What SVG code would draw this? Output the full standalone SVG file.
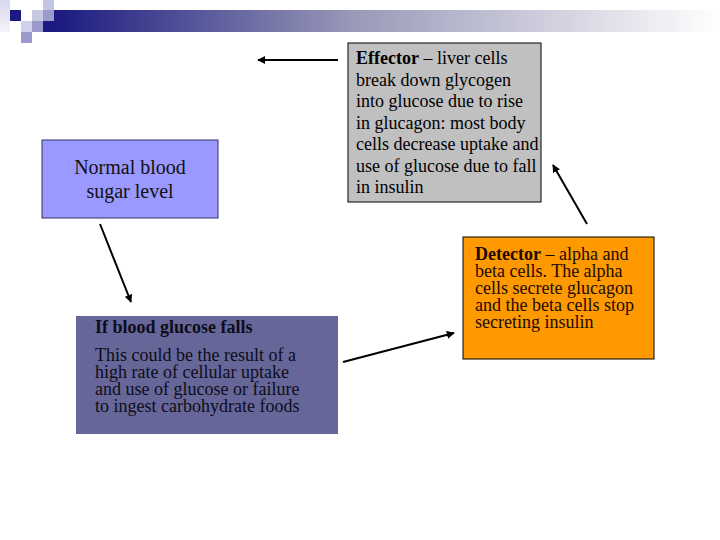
<svg xmlns="http://www.w3.org/2000/svg" width="720" height="540" viewBox="0 0 720 540">
<defs>
<linearGradient id="bar" x1="0" y1="0" x2="1" y2="0">
<stop offset="0" stop-color="#1a1a80"/>
<stop offset="0.45" stop-color="#9999b8"/>
<stop offset="1" stop-color="#ffffff"/>
</linearGradient>
<linearGradient id="fade" x1="0" y1="0" x2="0" y2="1">
<stop offset="0" stop-color="#d8d8ee"/>
<stop offset="1" stop-color="#f4f4fb"/>
</linearGradient>
<marker id="ah" viewBox="0 0 10 10" refX="9" refY="5" markerWidth="4" markerHeight="4" orient="auto" markerUnits="strokeWidth">
<path d="M0,0 L10,5 L0,10 Z" fill="#000"/>
</marker>
<style>
.t{font-family:"Liberation Serif","Times New Roman",serif;font-size:18px;}
.c{stroke:#000;stroke-width:2;fill:none;marker-end:url(#ah);}
</style>
</defs>
<rect width="720" height="540" fill="#fff"/>
<g id="header">
<rect x="54" y="10" width="666" height="22" fill="url(#bar)"/>
<rect x="0" y="0" width="10" height="32" fill="url(#fade)"/>
<rect x="10" y="10" width="11" height="11" fill="#1a1a80"/>
<rect x="21" y="21" width="11" height="11" fill="#d0d0ec"/>
<rect x="32" y="10" width="11" height="11" fill="#c8c8e0"/>
<rect x="43" y="0" width="11" height="10" fill="#c4c4e4"/>
<rect x="43" y="10" width="11" height="11" fill="#9a9acc"/>
<rect x="32" y="21" width="11" height="11" fill="#9999cc"/>
<rect x="43" y="21" width="11" height="11" fill="#1a1a80"/>
<rect x="21" y="32" width="11" height="11" fill="#9999cc"/>
</g>
<g id="normal">
<rect x="42" y="140" width="176" height="78" fill="#9999ff" stroke="#333366" stroke-width="1"/>
<text class="t" x="130" y="174" text-anchor="middle" style="font-size:20px" fill="#111">Normal blood</text>
<text class="t" x="130" y="198" text-anchor="middle" style="font-size:20px" fill="#111">sugar level</text>
</g>
<g id="effector">
<rect x="348" y="43" width="193" height="159" fill="#c0c0c0" stroke="#000" stroke-width="1"/>
<text class="t" fill="#000">
<tspan x="356" y="64"><tspan font-weight="bold">Effector</tspan> – liver cells</tspan>
<tspan x="356" y="86">break down glycogen</tspan>
<tspan x="356" y="107">into glucose due to rise</tspan>
<tspan x="356" y="129">in glucagon: most body</tspan>
<tspan x="356" y="150">cells decrease uptake and</tspan>
<tspan x="356" y="172">use of glucose due to fall</tspan>
<tspan x="356" y="193">in insulin</tspan>
</text>
</g>
<g id="detector">
<rect x="463" y="237" width="191" height="122" fill="#ff9900" stroke="#000" stroke-width="1"/>
<text class="t" fill="#1a0a00">
<tspan x="475" y="260"><tspan font-weight="bold">Detector</tspan> – alpha and</tspan>
<tspan x="475" y="277">beta cells. The alpha</tspan>
<tspan x="475" y="294">cells secrete glucagon</tspan>
<tspan x="475" y="311">and the beta cells stop</tspan>
<tspan x="475" y="328">secreting insulin</tspan>
</text>
</g>
<g id="stimulus">
<rect x="76" y="316" width="262" height="118" fill="#666699"/>
<text class="t" x="95" y="333" font-weight="bold" fill="#0d0d1a">If blood glucose falls</text>
<text class="t" fill="#0d0d1a">
<tspan x="95" y="361">This could be the result of a</tspan>
<tspan x="95" y="378">high rate of cellular uptake</tspan>
<tspan x="95" y="395">and use of glucose or failure</tspan>
<tspan x="95" y="412">to ingest carbohydrate foods</tspan>
</text>
</g>
<g id="connectors">
<line class="c" x1="338" y1="60" x2="258" y2="60"/>
<line class="c" x1="100" y1="224" x2="131" y2="302"/>
<line class="c" x1="343" y1="362" x2="454" y2="333"/>
<line class="c" x1="587" y1="224" x2="553" y2="165"/>
</g>
</svg>
